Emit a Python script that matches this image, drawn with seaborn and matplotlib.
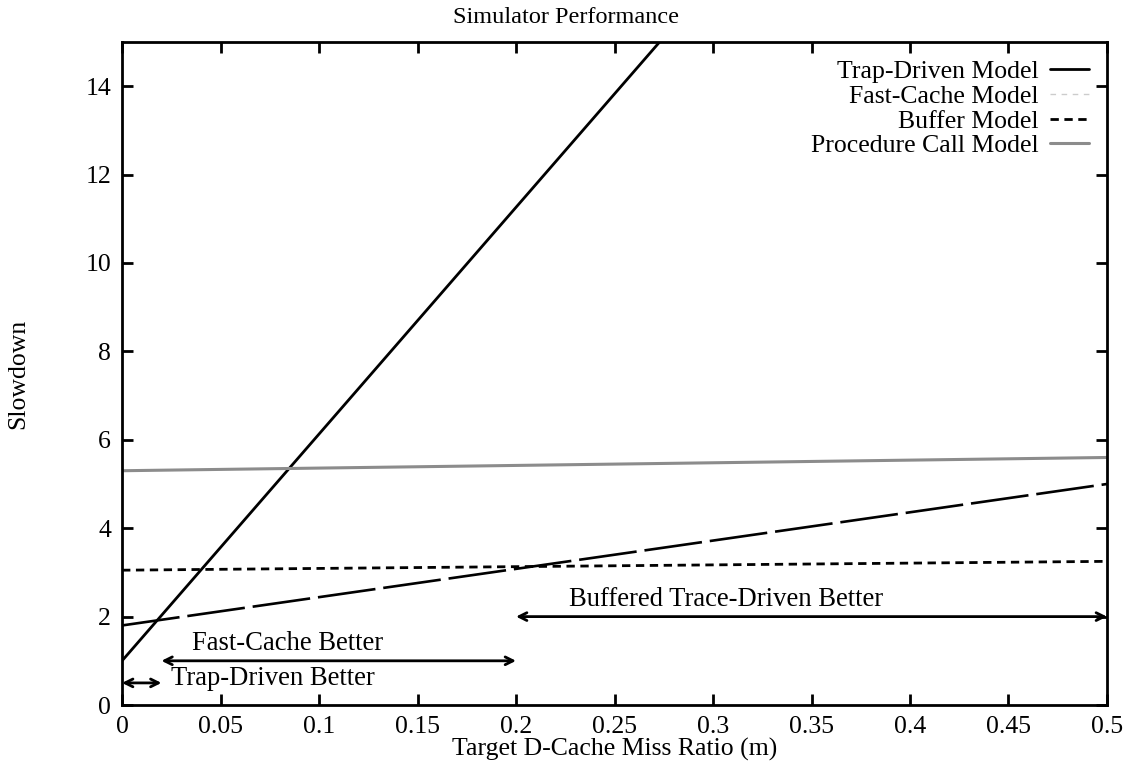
import matplotlib
matplotlib.use("Agg")
import matplotlib.pyplot as plt
import seaborn as sns
import pandas as pd

# ---- data ----
miss_ratio = [0.0, 0.5]
trap_driven = [1.0, 26.65]
fast_cache = [1.8, 5.0]
buffer_model = [3.05, 3.25]
procedure_call = [5.3, 5.6]

series_names = ["Trap-Driven Model", "Fast-Cache Model", "Buffer Model", "Procedure Call Model"]

x_ticks = [0, 0.05, 0.1, 0.15, 0.2, 0.25, 0.3, 0.35, 0.4, 0.45, 0.5]
x_tick_labels = ["0", "0.05", "0.1", "0.15", "0.2", "0.25", "0.3", "0.35", "0.4", "0.45", "0.5"]
y_ticks = [0, 2, 4, 6, 8, 10, 12, 14]

# region annotations: (label, x_start, x_end, arrow_y, text_x, text_y, ha)
regions = [
    ("Trap-Driven Better", 0.0, 0.02, 0.5, 0.025, 0.6, "left"),
    ("Fast-Cache Better", 0.02, 0.2, 1.0, 0.084, 1.4, "center"),
    ("Buffered Trace-Driven Better", 0.2, 0.5, 2.0, 0.3066, 2.38, "center"),
]

sns.set_style("ticks", {"axes.edgecolor": "black", "text.color": "black",
                        "xtick.color": "black", "ytick.color": "black",
                        "axes.labelcolor": "black"})
plt.rcParams["font.family"] = ["Liberation Serif", "DejaVu Serif"]

df = pd.DataFrame({
    "m": miss_ratio * 4,
    "slowdown": trap_driven + fast_cache + buffer_model + procedure_call,
    "model": [n for n in series_names for _ in miss_ratio],
})

fig = plt.figure(figsize=(11.29, 7.63), dpi=100)
ax = fig.add_axes([0.1081, 0.076, 0.8724, 0.869])

styles = {
    "Trap-Driven Model": dict(color="black", lw=2.0, ls="-"),
    "Fast-Cache Model": dict(color="black", lw=1.9, ls=(0, (22, 3))),
    "Buffer Model": dict(color="black", lw=2.0, ls=(0, (3, 2))),
    "Procedure Call Model": dict(color="#8c8c8c", lw=2.2, ls="-"),
}

for name in series_names:
    sub = df[df["model"] == name]
    st = styles[name]
    sns.lineplot(data=sub, x="m", y="slowdown", ax=ax, label=name,
                 color=st["color"], linewidth=st["lw"], linestyle=st["ls"])

ax.set_xlim(0, 0.5)
ax.set_ylim(0, 15)
ax.set_xticks(x_ticks)
ax.set_xticklabels(x_tick_labels)
ax.set_yticks(y_ticks)
ax.tick_params(direction="in", length=8, width=2, top=True, right=True,
               labelsize=18.5, pad=8, colors="black")
for sp in ax.spines.values():
    sp.set_linewidth(2)
    sp.set_color("black")
    sp.set_visible(True)

ax.set_title("Simulator Performance", fontsize=17.5, pad=14, x=0.451, color="black")
ax.set_xlabel("Target D-Cache Miss Ratio (m)", fontsize=18.5, labelpad=0, color="black")
ax.set_ylabel("Slowdown", fontsize=18.5, va="center", color="black")
ax.yaxis.set_label_coords(-0.105, 0.5)

for label, x0, x1, ya, tx, ty, ha in regions:
    ax.annotate("", xy=(x1, ya), xytext=(x0, ya),
                arrowprops=dict(arrowstyle="<->", color="black", lw=2,
                                shrinkA=0, shrinkB=0, mutation_scale=14))
    ax.text(tx, ty, label, ha=ha, va="center", fontsize=19.2, color="black")

leg = ax.legend(loc="upper right", frameon=False, markerfirst=False,
                fontsize=18.5, handlelength=1.5, labelspacing=0.07,
                borderaxespad=0.3, handletextpad=0.45)
for t in leg.get_texts():
    t.set_ha("right")
    t.set_color("black")
hl = leg.get_lines()
hl[1].set_color("#cccccc")
hl[1].set_linestyle((0, (4, 4)))
hl[1].set_linewidth(1.0)

fig.savefig("out.png", dpi=100)
